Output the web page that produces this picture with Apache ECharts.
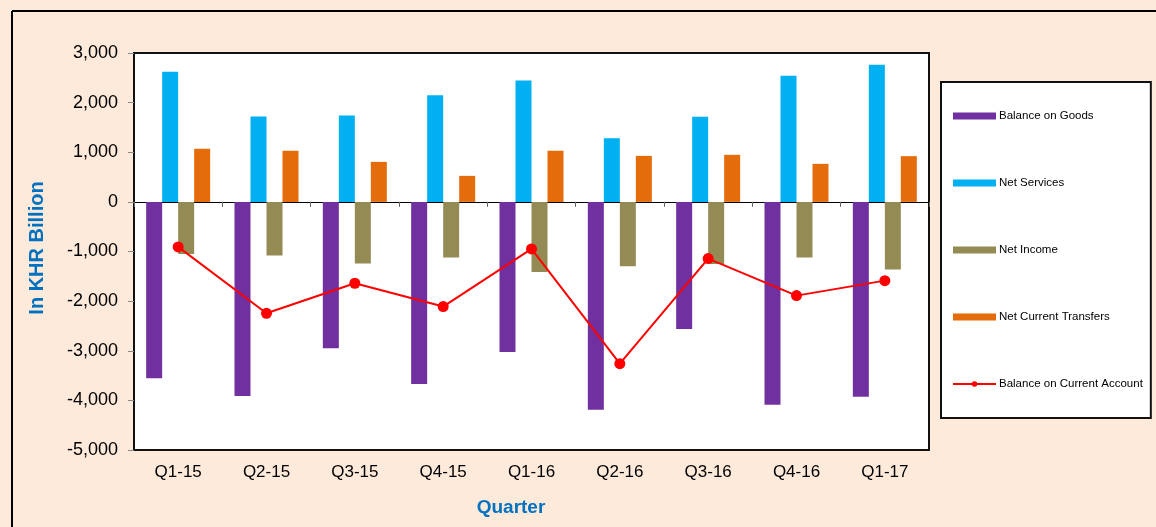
<!DOCTYPE html>
<html><head><meta charset="utf-8">
<script src="https://cdn.jsdelivr.net/npm/echarts@6/dist/echarts.min.js"></script>
<style>html,body{margin:0;padding:0;background:#FDEADA;}#c{width:1156px;height:527px;}</style>
</head><body><div id="c"></div>
<script>
const categories = ['Q1-15','Q2-15','Q3-15','Q4-15','Q1-16','Q2-16','Q3-16','Q4-16','Q1-17'];
const balanceGoods = [-3555,-3911,-2950,-3669,-3024,-4187,-2560,-4086,-3925];
const netServices = [2621,1720,1740,2151,2446,1284,1714,2540,2762];
const netIncome = [-1048,-1082,-1244,-1123,-1411,-1297,-1250,-1123,-1365];
const netTransfers = [1069,1028,806,524,1028,927,948,766,921];
const currentAccount = [-907,-2245,-1640,-2110,-948,-3260,-1143,-1889,-1587];

const FONT = 'Liberation Sans, Arial, sans-serif';
const chart = echarts.init(document.getElementById('c'));
const barBase = {type:'bar', barWidth:16, barGap:'0%', barCategoryGap:'27%', xAxisIndex:0};
chart.setOption({
  backgroundColor:'#FDEADA',
  animation:false,
  textStyle:{fontFamily:FONT},
  grid:{left:134,right:227,top:53,bottom:77,show:true,backgroundColor:'#fff',borderColor:'#111',borderWidth:2},
  legend:{
    orient:'vertical', left:941, top:82,
    padding:[28,8,28,11], itemGap:55, itemWidth:43, itemHeight:7,
    backgroundColor:'#fff', borderColor:'#111', borderWidth:2,
    textStyle:{fontSize:11.5,color:'#000',fontFamily:FONT,padding:[0,0,0,-2]},
    data:[
      {name:'Balance on Goods',icon:'rect'},
      {name:'Net Services',icon:'rect'},
      {name:'Net Income',icon:'rect'},
      {name:'Net Current Transfers',icon:'rect'},
      {name:'Balance on Current Account'}
    ]
  },
  xAxis:[
    {type:'category',data:categories,position:'bottom',axisLine:{show:false,onZero:false},axisTick:{show:false},
     axisLabel:{fontSize:17,color:'#000',margin:14}},
    {type:'category',data:categories,position:'bottom',axisLine:{show:true,onZero:true,lineStyle:{color:'#000',width:1}},
     axisTick:{show:true,length:5,lineStyle:{color:'#666'}},axisLabel:{show:false}}
  ],
  yAxis:{type:'value',min:-5000,max:3000,interval:1000,
    axisLine:{show:false},axisTick:{show:true,length:6,lineStyle:{color:'#888'}},splitLine:{show:false},
    axisLabel:{fontSize:18,color:'#000',margin:16,formatter:v=>v.toLocaleString('en-US')}},
  graphic:[
    {type:'line',shape:{x1:12,y1:11,x2:1156,y2:11},style:{stroke:'#000',lineWidth:2},z:100},
    {type:'line',shape:{x1:12,y1:11,x2:12,y2:527},style:{stroke:'#000',lineWidth:2},z:100},
    {type:'text',x:511,y:508,style:{text:'Quarter',fontSize:19,fontWeight:'bold',fill:'#0070C0',
      textAlign:'center',textVerticalAlign:'middle',fontFamily:FONT}},
    {type:'text',x:37,y:248,rotation:Math.PI/2,style:{text:'In KHR Billion',fontSize:20,fontWeight:'bold',fill:'#0070C0',
      textAlign:'center',textVerticalAlign:'middle',fontFamily:FONT}}
  ],
  series:[
    Object.assign({},barBase,{name:'Balance on Goods',data:balanceGoods,itemStyle:{color:'#7030A0'}}),
    Object.assign({},barBase,{name:'Net Services',data:netServices,itemStyle:{color:'#00B0F0'}}),
    Object.assign({},barBase,{name:'Net Income',data:netIncome,itemStyle:{color:'#948A54'}}),
    Object.assign({},barBase,{name:'Net Current Transfers',data:netTransfers,itemStyle:{color:'#E46C0A'}}),
    {type:'line',name:'Balance on Current Account',data:currentAccount,xAxisIndex:0,z:10,
     symbol:'circle',symbolSize:11,lineStyle:{color:'#FF0000',width:2},itemStyle:{color:'#FF0000'}}
  ]
});
</script></body></html>
